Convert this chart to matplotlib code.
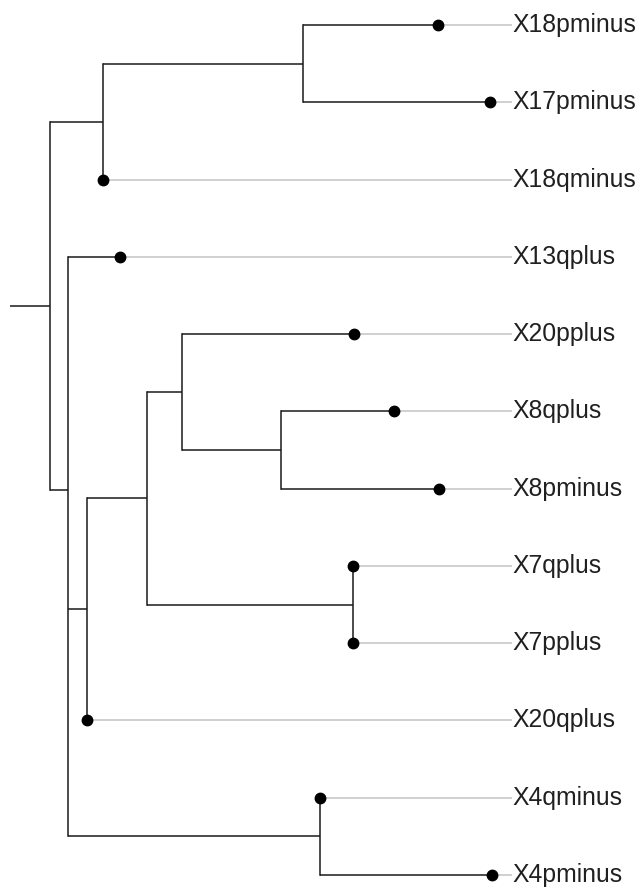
import matplotlib
matplotlib.use("Agg")
import matplotlib.pyplot as plt

# leaves, top to bottom, with their parent node and depth
leaf_names = ["X18pminus", "X17pminus", "X18qminus", "X13qplus", "X20pplus",
              "X8qplus", "X8pminus", "X7qplus", "X7pplus", "X20qplus",
              "X4qminus", "X4pminus"]
leaf_parent = ["B", "B", "A", "C", "F", "G", "G", "H", "H", "D", "I", "I"]
leaf_depth = [0.882, 1.0, 0.12, 0.159, 0.69, 0.782, 0.884, 0.689, 0.689,
              0.083, 0.614, 1.004]

# internal nodes (children order = top to bottom)
node_names = ["root", "A", "B", "C", "C2", "D", "E", "F", "G", "H", "I"]
node_parent = [None, "root", "A", "root", "C", "C2", "D", "E", "F", "E", "C2"]
node_depth = [0.0, 0.12, 0.575, 0.041, 0.041, 0.083, 0.22, 0.30, 0.525,
              0.689, 0.614]
root_edge = 0.091
label_x = 1.05

plt.rcParams['font.family'] = ['Liberation Sans', 'DejaVu Sans']

fig = plt.figure(figsize=(6.4, 8.88), dpi=100)
ax = fig.add_axes([0, 0, 1, 1])

depth = dict(zip(node_names, node_depth))
parent = dict(zip(node_names, node_parent))
for n, p, d in zip(leaf_names, leaf_parent, leaf_depth):
    depth[n] = d
    parent[n] = p

children = {n: [] for n in node_names}
for n in node_names[1:] + leaf_names:
    children[parent[n]].append(n)

ypos = {n: i for i, n in enumerate(leaf_names)}


def get_y(n):
    if n in ypos:
        return ypos[n]
    ys = [get_y(c) for c in children[n]]
    ypos[n] = (ys[0] + ys[-1]) / 2.0
    return ypos[n]


get_y("root")
for n in node_names:
    children[n].sort(key=lambda c: ypos[c])


def span(n):
    # vertical extent, merged with children sitting at the same depth
    ys = []
    for c in children[n]:
        if c in children and depth[c] == depth[n]:
            ys += span(c)
        else:
            ys.append(ypos[c])
    return [min(ys), max(ys)]


black = "#1a1a1a"
grey = "#c4c4c4"

# gray guide lines from tip to label
for n in leaf_names:
    ax.plot([depth[n], label_x], [ypos[n], ypos[n]], color=grey, lw=1.1,
            solid_capstyle="butt", zorder=1)

# tree edges
for n in node_names[1:] + leaf_names:
    p = parent[n]
    if depth[p] == depth[n]:
        continue
    ax.plot([depth[p], depth[n]], [ypos[n], ypos[n]], color=black, lw=1.1,
            solid_capstyle="butt", zorder=2)
for n in node_names:
    if parent[n] is not None and depth[parent[n]] == depth[n]:
        continue
    lo, hi = span(n)
    ax.plot([depth[n], depth[n]], [lo, hi], color=black, lw=1.1,
            solid_capstyle="projecting", zorder=2)
ax.plot([-root_edge, 0], [ypos["root"], ypos["root"]], color=black, lw=1.1,
        solid_capstyle="butt", zorder=2)

# tip points
ax.plot([depth[n] for n in leaf_names], [ypos[n] for n in leaf_names],
        "o", color="black", ms=7.5, zorder=3)

for n in leaf_names:
    ax.text(label_x, ypos[n], n, fontsize=17.8, va="center", ha="left",
            color="#202020")

ax.set_xlim(-50 / 440, 590 / 440)
ax.set_ylim(863 / 77.27, -25 / 77.27)
ax.axis("off")

fig.savefig("out.png", dpi=100)
